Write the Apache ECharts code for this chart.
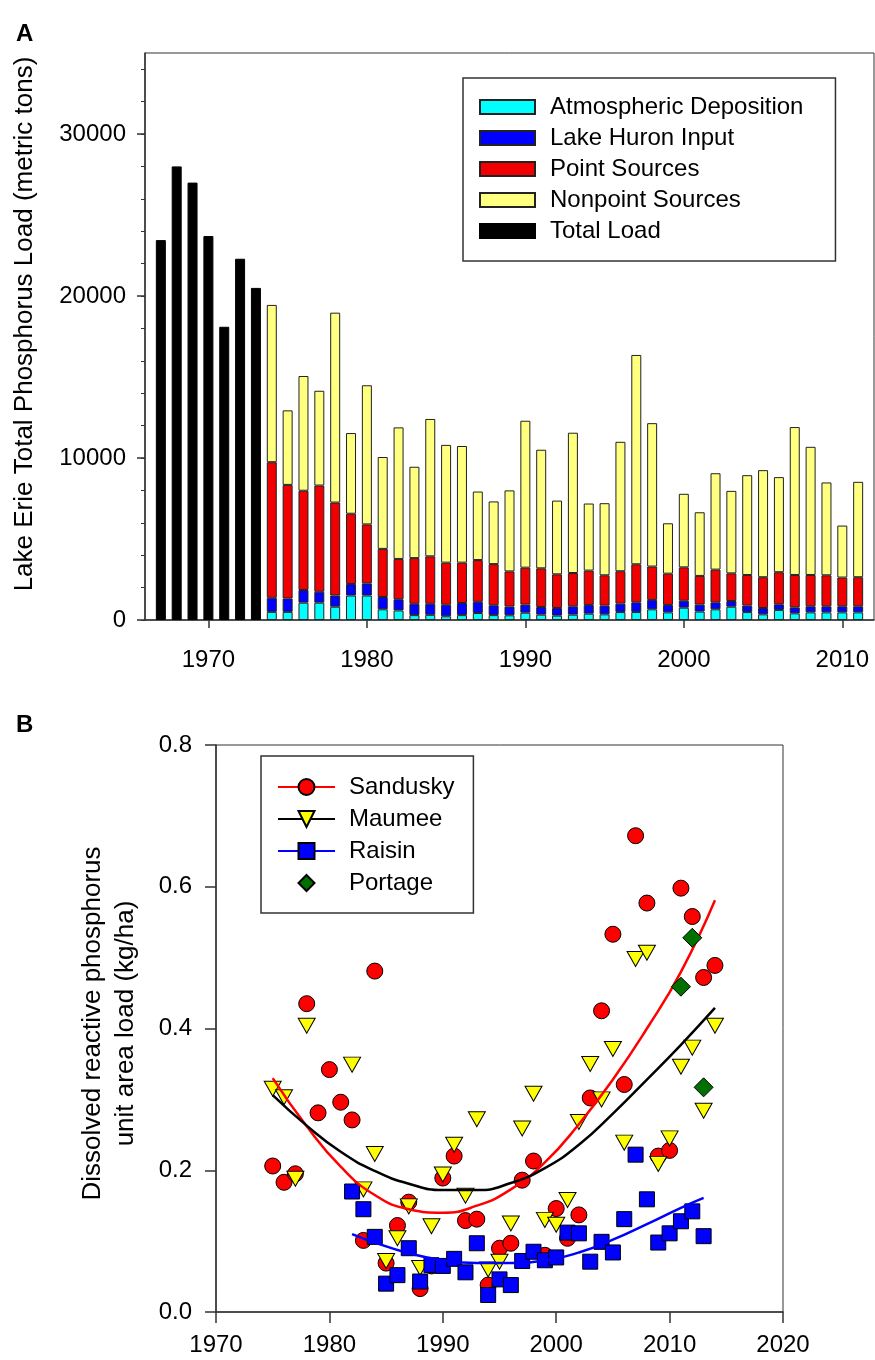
<!DOCTYPE html>
<html>
<head>
<meta charset="utf-8">
<script src="https://cdn.jsdelivr.net/npm/echarts@6/dist/echarts.min.js"></script>
<style>
html,body{margin:0;padding:0;background:#fff;}
#chart{width:875px;height:1360px;}
</style>
</head>
<body>
<div id="chart"></div>
<script>
// ---------- Panel A data (metric tons) ----------
const yearCategoriesA = ['1966','1967','1968','1969','1970','1971','1972','1973','1974','1975','1976','1977','1978','1979','1980','1981','1982','1983','1984','1985','1986','1987','1988','1989','1990','1991','1992','1993','1994','1995','1996','1997','1998','1999','2000','2001','2002','2003','2004','2005','2006','2007','2008','2009','2010','2011','2012'];

const totalYears = ['1967','1968','1969','1970','1971','1972','1973'];
const totalLoad = [23450, 28000, 27000, 23700, 18100, 22300, 20500];

const sourceYears = ['1974','1975','1976','1977','1978','1979','1980','1981','1982','1983','1984','1985','1986','1987','1988','1989','1990','1991','1992','1993','1994','1995','1996','1997','1998','1999','2000','2001','2002','2003','2004','2005','2006','2007','2008','2009','2010','2011'];
const atmospheric = [500,500,1070,1070,820,1510,1510,660,590,300,320,230,300,430,300,290,450,330,270,330,390,350,490,490,660,470,760,520,660,820,490,350,620,410,470,470,470,470];
const lakeHuron = [870,830,780,670,690,710,750,760,690,700,680,710,750,690,610,540,500,470,470,515,540,540,520,600,580,460,430,430,430,350,400,390,350,370,375,375,375,375];
const pointSources = [8370,7010,6130,6560,5740,4340,3640,2970,2490,2820,2930,2600,2490,2580,2540,2170,2280,2390,2080,2055,2120,1870,2000,2350,2060,1930,2060,1770,2020,1710,1890,1900,1980,2000,1935,1915,1775,1795];
const nonpointSources = [9710,4600,7080,5850,11720,4980,8590,5670,8120,5640,8480,7270,7200,4230,3870,5000,9070,7320,4550,8660,4140,4450,7990,12920,8850,3110,4540,3930,5950,5090,6160,6610,5870,9130,7910,5730,3210,5890];

const yTicksMajorA = [0, 10000, 20000, 30000];
const yTicksMinorA = [0, 2000, 4000, 6000, 8000, 10000, 12000, 14000, 16000, 18000, 20000, 22000, 24000, 26000, 28000, 30000, 32000, 34000];

// ---------- Panel B data (kg/ha) ----------
const sandusky = [[1975,0.206],[1976,0.183],[1977,0.195],[1978,0.435],[1979,0.281],[1980,0.342],[1981,0.296],[1982,0.271],[1983,0.101],[1984,0.481],[1985,0.069],[1986,0.122],[1987,0.155],[1988,0.033],[1989,0.065],[1990,0.189],[1991,0.220],[1992,0.129],[1993,0.131],[1994,0.038],[1995,0.090],[1996,0.097],[1997,0.186],[1998,0.213],[1999,0.080],[2000,0.146],[2001,0.104],[2002,0.137],[2003,0.302],[2004,0.425],[2005,0.533],[2006,0.321],[2007,0.672],[2008,0.577],[2009,0.220],[2010,0.228],[2011,0.598],[2012,0.558],[2013,0.472],[2014,0.489]];
const maumee = [[1975,0.315],[1976,0.303],[1977,0.188],[1978,0.404],[1982,0.349],[1983,0.173],[1984,0.223],[1985,0.072],[1986,0.104],[1987,0.149],[1988,0.062],[1989,0.121],[1990,0.194],[1991,0.236],[1992,0.164],[1993,0.272],[1994,0.060],[1995,0.071],[1996,0.125],[1997,0.259],[1998,0.308],[1999,0.130],[2000,0.123],[2001,0.158],[2002,0.268],[2003,0.350],[2004,0.300],[2005,0.371],[2006,0.239],[2007,0.498],[2008,0.507],[2009,0.209],[2010,0.245],[2011,0.346],[2012,0.373],[2013,0.284],[2014,0.404]];
const raisin = [[1982,0.170],[1983,0.145],[1984,0.106],[1985,0.040],[1986,0.052],[1987,0.090],[1988,0.043],[1989,0.066],[1990,0.065],[1991,0.075],[1992,0.056],[1993,0.097],[1994,0.024],[1995,0.046],[1996,0.038],[1997,0.072],[1998,0.085],[1999,0.073],[2000,0.077],[2001,0.112],[2002,0.111],[2003,0.071],[2004,0.099],[2005,0.084],[2006,0.131],[2007,0.222],[2008,0.159],[2009,0.098],[2010,0.111],[2011,0.128],[2012,0.142],[2013,0.107]];
const portage = [[2011,0.459],[2012,0.528],[2013,0.317]];

// fitted trend curves
const sanduskyFit = [[1975,0.330],[1978,0.262],[1981,0.205],[1984,0.165],[1987,0.145],[1990,0.140],[1993,0.150],[1996,0.173],[1999,0.211],[2002,0.265],[2005,0.328],[2008,0.400],[2011,0.480],[2014,0.581]];
const maumeeFit = [[1975,0.306],[1978,0.263],[1981,0.226],[1984,0.199],[1987,0.181],[1990,0.172],[1993,0.172],[1996,0.182],[1999,0.203],[2002,0.236],[2005,0.280],[2008,0.328],[2011,0.377],[2014,0.429]];
const raisinFit = [[1982,0.110],[1984,0.098],[1987,0.083],[1990,0.073],[1993,0.069],[1996,0.069],[1999,0.073],[2002,0.084],[2005,0.102],[2008,0.124],[2011,0.147],[2013,0.161]];

// ---------- Chart ----------
const FONT = 'Liberation Sans, Arial, Helvetica, sans-serif';
const AX = '#333';
const downTri = 'path://M0,0L20,0L10,17Z';

const pair = (xs, ys) => xs.map((x, i) => [x, ys[i]]);
const barBorder = { borderColor: '#222', borderWidth: 1 };
const decade = (idx, val) => Number(val) % 10 === 0;

const chart = echarts.init(document.getElementById('chart'), null, { renderer: 'canvas' });

const option = {
  animation: false,
  backgroundColor: '#fff',
  textStyle: { fontFamily: FONT, color: '#000' },
  title: [
    { text: 'A', left: 11, top: 17, textStyle: { fontFamily: FONT, fontSize: 24, fontWeight: 'bold', color: '#000' } },
    { text: 'B', left: 11, top: 708, textStyle: { fontFamily: FONT, fontSize: 24, fontWeight: 'bold', color: '#000' } }
  ],
  grid: [
    { left: 145, right: 1, top: 53, bottom: 740, show: true, borderColor: AX, borderWidth: 1, backgroundColor: 'transparent' },
    { left: 216, right: 92, top: 745, bottom: 48, show: true, borderColor: AX, borderWidth: 1, backgroundColor: 'transparent' }
  ],
  legend: [
    {
      data: ['Atmospheric Deposition', 'Lake Huron Input', 'Point Sources', 'Nonpoint Sources', 'Total Load'],
      orient: 'vertical', left: 463, top: 78,
      icon: 'rect', itemWidth: 55, itemHeight: 14, itemGap: 7,
      padding: [17, 32, 18, 16],
      borderColor: AX, borderWidth: 1.5,
      selectedMode: false,
      textStyle: { fontFamily: FONT, fontSize: 24, color: '#000', padding: [0, 0, 0, 10] }
    },
    {
      data: ['Sandusky', 'Maumee', 'Raisin', 'Portage'],
      orient: 'vertical', left: 261, top: 756,
      itemWidth: 57, itemHeight: 20, itemGap: 8,
      padding: [19, 19, 18, 16],
      borderColor: AX, borderWidth: 1.5,
      selectedMode: false,
      textStyle: { fontFamily: FONT, fontSize: 24, color: '#000', padding: [0, 0, 0, 9] }
    }
  ],
  xAxis: [
    {
      type: 'category', gridIndex: 0, data: yearCategoriesA, boundaryGap: false,
      axisLine: { show: true, lineStyle: { color: AX, width: 1.5 } },
      axisTick: { show: true, length: 8, interval: decade, lineStyle: { color: AX, width: 1.5 } },
      axisLabel: { fontFamily: FONT, fontSize: 24, color: '#000', margin: 28, interval: decade },
      splitLine: { show: false }
    },
    {
      type: 'value', gridIndex: 1, min: 1970, max: 2020, interval: 10,
      axisLine: { show: true, onZero: false, lineStyle: { color: AX, width: 1.5 } },
      axisTick: { show: true, length: 11, lineStyle: { color: AX, width: 1.5 } },
      axisLabel: { fontFamily: FONT, fontSize: 24, color: '#000', margin: 21, formatter: v => String(v) },
      splitLine: { show: false }
    }
  ],
  yAxis: [
    {
      type: 'value', gridIndex: 0, min: 0, max: 35000,
      name: 'Lake Erie Total Phosphorus Load (metric tons)',
      nameLocation: 'middle', nameGap: 107,
      nameTextStyle: { fontFamily: FONT, fontSize: 26, color: '#000', padding: [0, 0, 0, 25] },
      axisLine: { show: true, lineStyle: { color: AX, width: 1.5 } },
      axisTick: { show: true, length: 8, lineStyle: { color: AX, width: 1.5 }, customValues: yTicksMajorA },
      axisLabel: { fontFamily: FONT, fontSize: 24, color: '#000', margin: 19, customValues: yTicksMajorA, formatter: v => String(v) },
      splitLine: { show: false }
    },
    {
      type: 'value', gridIndex: 0, min: 0, max: 35000, position: 'left',
      axisLine: { show: false },
      axisTick: { show: true, length: 4, lineStyle: { color: AX, width: 1 }, customValues: yTicksMinorA },
      axisLabel: { show: false },
      splitLine: { show: false }
    },
    {
      type: 'value', gridIndex: 1, min: 0, max: 0.8, interval: 0.2,
      name: 'Dissolved reactive phosphorus\nunit area load (kg/ha)',
      nameLocation: 'middle', nameGap: 74,
      nameTextStyle: { fontFamily: FONT, fontSize: 26, color: '#000', lineHeight: 33, padding: [0, 0, 0, 10] },
      axisLine: { show: true, onZero: false, lineStyle: { color: AX, width: 1.5 } },
      axisTick: { show: true, length: 11, lineStyle: { color: AX, width: 1.5 } },
      axisLabel: { fontFamily: FONT, fontSize: 24, color: '#000', margin: 24, formatter: v => v.toFixed(1) },
      splitLine: { show: false }
    }
  ],
  series: [
    { name: 'Atmospheric Deposition', type: 'bar', xAxisIndex: 0, yAxisIndex: 0, stack: 'A', barWidth: 10,
      itemStyle: Object.assign({ color: '#00FFFF' }, barBorder), data: pair(sourceYears, atmospheric) },
    { name: 'Lake Huron Input', type: 'bar', xAxisIndex: 0, yAxisIndex: 0, stack: 'A', barWidth: 10,
      itemStyle: Object.assign({ color: '#0000FF' }, barBorder), data: pair(sourceYears, lakeHuron) },
    { name: 'Point Sources', type: 'bar', xAxisIndex: 0, yAxisIndex: 0, stack: 'A', barWidth: 10,
      itemStyle: Object.assign({ color: '#F00000' }, barBorder), data: pair(sourceYears, pointSources) },
    { name: 'Nonpoint Sources', type: 'bar', xAxisIndex: 0, yAxisIndex: 0, stack: 'A', barWidth: 10,
      itemStyle: Object.assign({ color: '#FFFF80' }, barBorder), data: pair(sourceYears, nonpointSources) },
    { name: 'Total Load', type: 'bar', xAxisIndex: 0, yAxisIndex: 0, stack: 'A', barWidth: 10,
      itemStyle: { color: '#000000', borderColor: '#000', borderWidth: 1 }, data: pair(totalYears, totalLoad) },

    { name: 'Sandusky points', type: 'scatter', xAxisIndex: 1, yAxisIndex: 2, symbol: 'circle', symbolSize: 16,
      itemStyle: { color: '#FF0000', borderColor: '#000', borderWidth: 1, opacity: 1 }, data: sandusky },
    { name: 'Maumee points', type: 'scatter', xAxisIndex: 1, yAxisIndex: 2, symbol: downTri, symbolSize: [17, 15],
      itemStyle: { color: '#FFFF00', borderColor: '#000', borderWidth: 1, opacity: 1 }, data: maumee },
    { name: 'Raisin points', type: 'scatter', xAxisIndex: 1, yAxisIndex: 2, symbol: 'rect', symbolSize: 15,
      itemStyle: { color: '#0000FF', borderColor: '#000', borderWidth: 1, opacity: 1 }, data: raisin },
    { name: 'Portage', type: 'line', xAxisIndex: 1, yAxisIndex: 2, symbol: 'diamond', symbolSize: [19, 19], showSymbol: true,
      lineStyle: { width: 0, opacity: 0 },
      itemStyle: { color: '#007000', borderColor: '#000', borderWidth: 1 }, data: portage },

    { name: 'Sandusky', type: 'line', xAxisIndex: 1, yAxisIndex: 2, smooth: 0.5,
      showSymbol: false, symbol: 'circle', symbolSize: 16,
      lineStyle: { color: '#FF0000', width: 2.5 },
      itemStyle: { color: '#FF0000', borderColor: '#000', borderWidth: 1 }, data: sanduskyFit },
    { name: 'Maumee', type: 'line', xAxisIndex: 1, yAxisIndex: 2, smooth: 0.5,
      showSymbol: false, symbol: downTri, symbolSize: 16,
      lineStyle: { color: '#000000', width: 2.5 },
      itemStyle: { color: '#FFFF00', borderColor: '#000', borderWidth: 1 }, data: maumeeFit },
    { name: 'Raisin', type: 'line', xAxisIndex: 1, yAxisIndex: 2, smooth: 0.5,
      showSymbol: false, symbol: 'rect', symbolSize: 15,
      lineStyle: { color: '#0000FF', width: 2.5 },
      itemStyle: { color: '#0000FF', borderColor: '#000', borderWidth: 1 }, data: raisinFit }
  ]
};

chart.setOption(option);
</script>
</body>
</html>
